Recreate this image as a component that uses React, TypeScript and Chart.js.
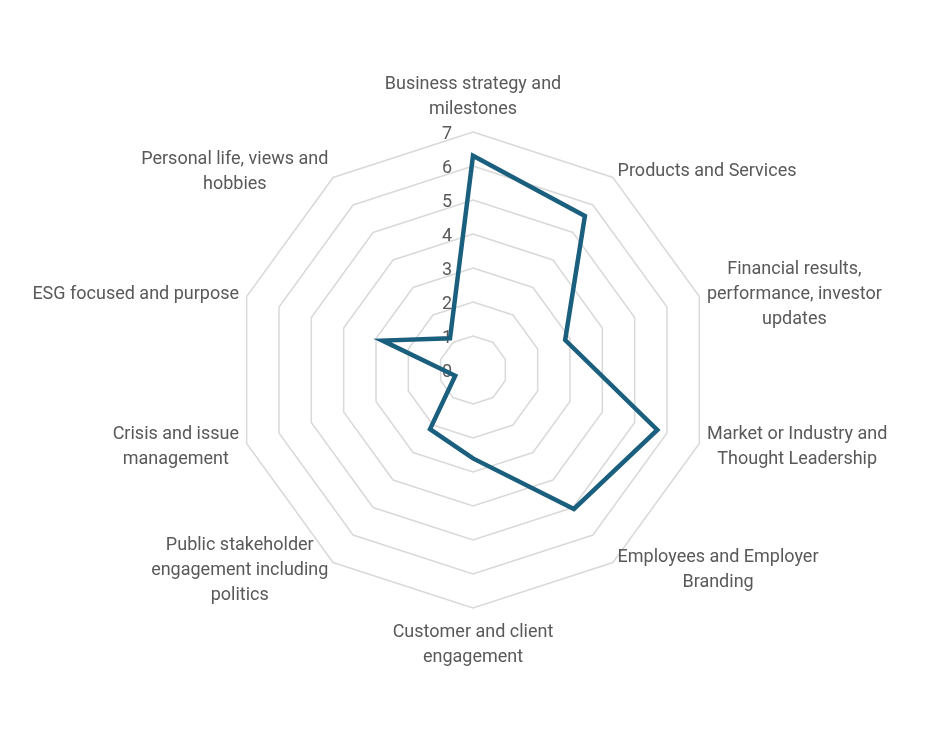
import React, { useEffect, useRef } from "react";
import { Chart, registerables } from "chart.js";

Chart.register(...registerables);

const categories: string[][] = [
  ["Business strategy and", "milestones"],
  ["Products and Services"],
  ["Financial results,", "performance, investor", "updates"],
  ["Market or Industry and", "Thought Leadership"],
  ["Employees and Employer", "Branding"],
  ["Customer and client", "engagement"],
  ["Public stakeholder", "engagement including", "politics"],
  ["Crisis and issue", "management"],
  ["ESG focused and purpose"],
  ["Personal life, views and", "hobbies"],
];

const scores = [6.3, 5.6, 2.85, 5.7, 5.05, 2.6, 2.15, 0.55, 2.8, 1.15];

const scaleMin = 0;
const scaleMax = 7;

const TEXT = "#595959";
const FONT = "18px Roboto";
const LINE_H = 25;
const NUDGE = 2; // baseline "middle" sits a touch high in Roboto

// Excel-style labels: ticks to the left of the axis, centred multi-line category labels
const excelLabels = {
  id: "excelLabels",
  beforeDatasetsDraw(chart: any) {
    const scale = chart.scales.r;
    const ctx = chart.ctx as CanvasRenderingContext2D;
    ctx.save();
    ctx.font = FONT;
    ctx.fillStyle = TEXT;
    ctx.textAlign = "center";
    ctx.textBaseline = "middle";

    scale.ticks.forEach((t: any) => {
      const d = scale.getDistanceFromCenterForValue(t.value);
      ctx.fillText(String(t.value), scale.xCenter - 26, scale.yCenter - d + NUDGE);
    });

    const outer = scale.getDistanceFromCenterForValue(scaleMax) + 8;
    categories.forEach((lines, i) => {
      const p = scale.getPointPosition(i, outer);
      const a = p.angle + Math.PI / 2;
      const s = Math.sin(a);
      const c = Math.cos(a);
      const w = Math.max(...lines.map((l) => ctx.measureText(l).width));
      const n = lines.length;
      let cx = p.x;
      if (s > 0.1) cx = p.x + w / 2;
      else if (s < -0.1) cx = p.x - w / 2;
      let firstY: number;
      if (Math.abs(s) < 0.1) {
        firstY = c > 0 ? p.y - 17 - (n - 1) * LINE_H : p.y + 14;
      } else {
        firstY = p.y - 1 - ((n - 1) / 2) * LINE_H;
      }
      lines.forEach((l, k) => ctx.fillText(l, cx, firstY + k * LINE_H + NUDGE));
    });
    ctx.restore();
  },
};

const RadarChart = () => {
  const chartRef = useRef<HTMLCanvasElement | null>(null);

  useEffect(() => {
    if (!chartRef.current) return;
    const ctx = chartRef.current.getContext("2d");
    if (!ctx) return;

    const chart = new Chart(ctx, {
      type: "radar",
      data: {
        labels: categories,
        datasets: [
          {
            label: "Score",
            data: scores,
            borderColor: "#1B5F7E",
            borderWidth: 4.5,
            borderJoinStyle: "miter",
            pointRadius: 0,
            pointHoverRadius: 0,
            fill: false,
          },
        ],
      },
      options: {
        animation: false,
        responsive: true,
        maintainAspectRatio: false,
        layout: { padding: { top: 132, bottom: 131, left: 0, right: 0 } },
        plugins: {
          legend: { display: false },
          tooltip: { enabled: false },
        },
        scales: {
          r: {
            min: scaleMin,
            max: scaleMax,
            ticks: { stepSize: 1, display: false },
            grid: { color: "#D9D9D9", lineWidth: 1.5 },
            angleLines: { display: false },
            pointLabels: { display: false },
          },
        },
      },
      plugins: [excelLabels],
    });

    return () => {
      chart.destroy();
    };
  }, []);

  return (
    <div style={{ position: "absolute", left: 0, top: 0, width: 947, height: 739, background: "#fff" }}>
      <canvas ref={chartRef} />
    </div>
  );
};

export default function App() {
  return <RadarChart />;
}
